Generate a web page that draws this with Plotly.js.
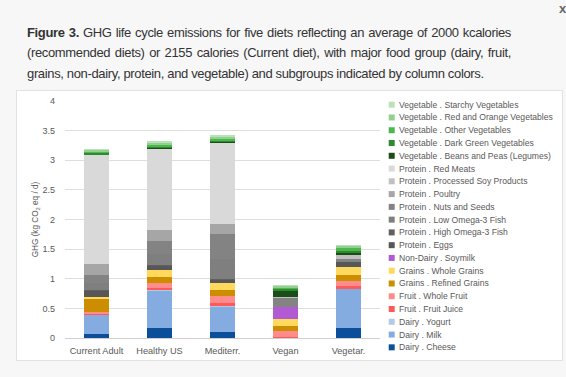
<!DOCTYPE html>
<html>
<head>
<meta charset="utf-8">
<script src="https://cdn.plot.ly/plotly-3.0.1.min.js"></script>
<style>
html,body{margin:0;padding:0;background:#f7f7f7;width:566px;height:377px;overflow:hidden;}
#cap{position:absolute;left:27px;top:23px;width:484px;font-family:"Liberation Sans",Arial,sans-serif;font-size:13px;letter-spacing:-0.35px;line-height:20.3px;color:#333;}
#cap div{white-space:nowrap;text-align:justify;text-align-last:justify;}
#cap div.last{text-align-last:left;}
#close{position:absolute;left:559px;top:1px;font-family:"Liberation Sans",Arial,sans-serif;font-size:13px;font-weight:bold;color:#666;}
#box{position:absolute;left:16px;top:90px;width:547px;height:271px;background:#fff;border:1px solid #e2e2e2;box-sizing:border-box;}
#chart{position:absolute;left:0;top:0;width:566px;height:377px;}
</style>
</head>
<body>
<div id="cap">
<div><b>Figure 3.</b> GHG life cycle emissions for five diets reflecting an average of 2000 kcalories</div>
<div>(recommended diets) or 2155 calories (Current diet), with major food group (dairy, fruit,</div>
<div class="last">grains, non-dairy, protein, and vegetable) and subgroups indicated by column colors.</div>
</div>
<div id="close">x</div>
<div id="box"></div>
<div id="chart"></div>
<script>
// Categories
const diets = ['Current Adult', 'Healthy US', 'Mediterr.', 'Vegan', 'Vegetar.'];

// Series values (kg CO2 eq / d), stacked bottom to top
const dairyCheese      = [0.070, 0.165, 0.106, 0.000, 0.170];
const dairyMilk        = [0.310, 0.635, 0.425, 0.000, 0.650];
const dairyYogurt      = [0.008, 0.010, 0.010, 0.000, 0.010];
const fruitJuice       = [0.022, 0.040, 0.050, 0.020, 0.040];
const fruitWhole       = [0.034, 0.085, 0.110, 0.090, 0.100];
const grainsRefined    = [0.214, 0.100, 0.110, 0.100, 0.100];
const grainsWhole      = [0.033, 0.110, 0.110, 0.110, 0.125];
const nonDairySoymilk  = [0.000, 0.000, 0.000, 0.200, 0.000];
const proteinEggs      = [0.110, 0.070, 0.060, 0.000, 0.085];
const proteinHighFish  = [0.013, 0.010, 0.010, 0.000, 0.000];
const proteinLowFish   = [0.120, 0.200, 0.350, 0.000, 0.000];
const proteinNuts      = [0.122, 0.220, 0.410, 0.150, 0.056];
const proteinPoultry   = [0.185, 0.170, 0.170, 0.000, 0.000];
const proteinSoyProd   = [0.000, 0.000, 0.000, 0.020, 0.070];
const proteinRedMeats  = [1.840, 1.370, 1.370, 0.000, 0.000];
const vegBeans         = [0.015, 0.015, 0.015, 0.100, 0.030];
const vegDarkGreen     = [0.020, 0.020, 0.020, 0.030, 0.035];
const vegOther         = [0.030, 0.035, 0.035, 0.030, 0.045];
const vegRedOrange     = [0.020, 0.030, 0.030, 0.025, 0.030];
const vegStarchy       = [0.025, 0.035, 0.035, 0.025, 0.030];

// Series names (bottom to top)
const seriesNames = [
  'Dairy . Cheese', 'Dairy . Milk', 'Dairy . Yogurt',
  'Fruit . Fruit Juice', 'Fruit . Whole Fruit',
  'Grains . Refined Grains', 'Grains . Whole Grains',
  'Non-Dairy . Soymilk',
  'Protein . Eggs', 'Protein . High Omega-3 Fish', 'Protein . Low Omega-3 Fish',
  'Protein . Nuts and Seeds', 'Protein . Poultry', 'Protein . Processed Soy Products',
  'Protein . Red Meats',
  'Vegetable . Beans and Peas (Legumes)', 'Vegetable . Dark Green Vegetables',
  'Vegetable . Other Vegetables', 'Vegetable . Red and Orange Vegetables',
  'Vegetable . Starchy Vegetables'
];
const seriesValues = [
  dairyCheese, dairyMilk, dairyYogurt, fruitJuice, fruitWhole,
  grainsRefined, grainsWhole, nonDairySoymilk,
  proteinEggs, proteinHighFish, proteinLowFish, proteinNuts, proteinPoultry,
  proteinSoyProd, proteinRedMeats,
  vegBeans, vegDarkGreen, vegOther, vegRedOrange, vegStarchy
];
const yTicks = [0, 0.5, 1, 1.5, 2, 2.5, 3, 3.5, 4];

// Styles
const seriesColors = [
  '#0b4f9a', '#84ace0', '#b5c8e8',
  '#ff5a5a', '#ff8c8c',
  '#cc8e00', '#ffd85e',
  '#b25ad4',
  '#575757', '#606060', '#7f7f7f', '#838383', '#a6a6a6', '#c0c0c0', '#d9d9d9',
  '#1b4d1b', '#2e8a2e', '#4cb84c', '#92d092', '#b9e2b9'
];

const FONT = '"Liberation Sans", Arial, sans-serif';
const TXT = '#595959';

const traces = seriesNames.map((name, i) => ({
  type: 'bar',
  name: name,
  x: diets,
  y: seriesValues[i],
  marker: {color: seriesColors[i], line: {width: 0}},
  width: 0.4,
  hoverinfo: 'skip'
}));

// Plot area geometry (pixels)
const W = 566, H = 377;
const mL = 65, mR = 186, mT = 101, mB = 39;
const pw = W - mL - mR, ph = H - mT - mB;
const px2x = p => (p - mL) / pw;
const py2y = p => (H - mB - p) / ph;

// Custom legend (top = last series)
const annotations = [];
const shapes = [];
const legTop = 104.7, legStep = 12.77;
for (let k = 0; k < seriesNames.length; k++) {
  const idx = seriesNames.length - 1 - k;
  const cy = legTop + k * legStep;
  annotations.push({
    xref: 'paper', yref: 'paper',
    x: px2x(396.5), y: py2y(cy),
    xanchor: 'left', yanchor: 'middle',
    text: seriesNames[idx], showarrow: false,
    font: {family: FONT, size: 8.6, color: TXT}
  });
  shapes.push({
    type: 'rect', xref: 'paper', yref: 'paper',
    x0: px2x(388.7), x1: px2x(394.7),
    y0: py2y(cy - 3), y1: py2y(cy + 3),
    fillcolor: seriesColors[idx], line: {width: 0}
  });
}

const layout = {
  width: W, height: H,
  margin: {l: mL, r: mR, t: mT, b: mB, pad: 0},
  paper_bgcolor: 'rgba(0,0,0,0)',
  plot_bgcolor: 'rgba(0,0,0,0)',
  barmode: 'stack',
  showlegend: false,
  font: {family: FONT, color: TXT},
  xaxis: {
    type: 'category',
    showgrid: false, zeroline: false, showline: false, ticks: '',
    tickfont: {family: FONT, size: 9.2, color: TXT},
    ticklabelstandoff: 6,
    fixedrange: true
  },
  yaxis: {
    range: [0, 4],
    tickvals: yTicks,
    ticktext: yTicks.map(String),
    showgrid: true, gridcolor: '#dedede', gridwidth: 1,
    zeroline: true, zerolinecolor: '#d0d0d0', zerolinewidth: 1,
    showline: false, ticks: '',
    tickfont: {family: FONT, size: 9, color: TXT},
    ticklabelstandoff: 9,
    title: {text: 'GHG (kg CO<sub>2</sub> eq / d)', font: {family: FONT, size: 8.2, color: TXT}, standoff: 2},
    automargin: false,
    fixedrange: true
  },
  annotations: annotations,
  shapes: shapes
};

Plotly.newPlot('chart', traces, layout, {displayModeBar: false, staticPlot: true});
</script>
</body>
</html>
